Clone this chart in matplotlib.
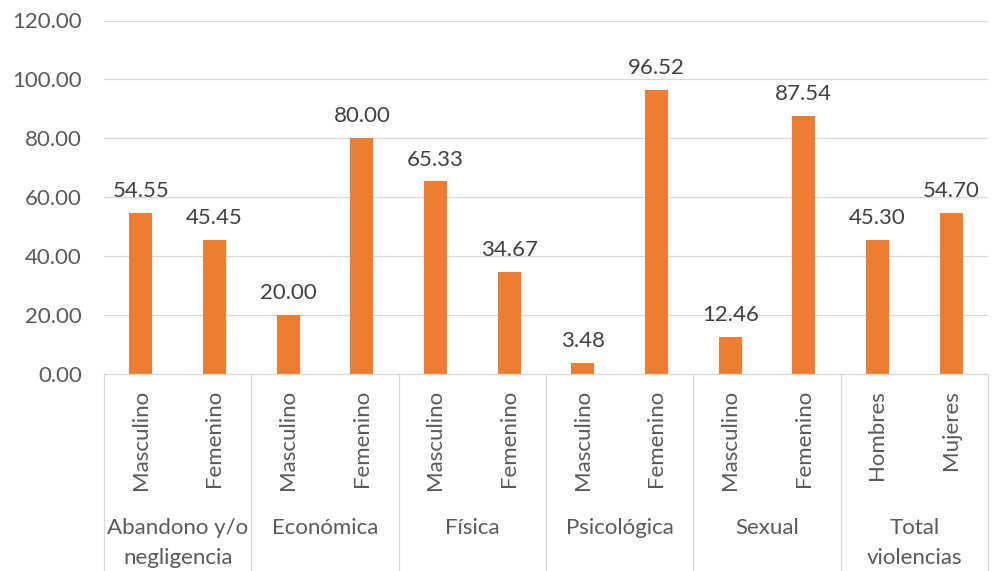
import matplotlib
matplotlib.use("Agg")
import matplotlib.pyplot as plt
from matplotlib.lines import Line2D
import matplotlib.transforms as mtransforms

groups = ["Abandono y/o\nnegligencia", "Económica", "Física", "Psicológica", "Sexual", "Total\nviolencias"]
subcats = ["Masculino", "Femenino", "Masculino", "Femenino", "Masculino", "Femenino",
           "Masculino", "Femenino", "Masculino", "Femenino", "Hombres", "Mujeres"]
values = [54.55, 45.45, 20.00, 80.00, 65.33, 34.67, 3.48, 96.52, 12.46, 87.54, 45.30, 54.70]
yticks = [0, 20, 40, 60, 80, 100, 120]

plt.rcParams['font.family'] = ['Lato', 'DejaVu Sans']
FS = 16
W, H = 995, 571
fig = plt.figure(figsize=(W/100, H/100), dpi=100)
left, right, top, base = 104, 988, 20.5, 373.5
ax = fig.add_axes([left/W, (H-base)/H, (right-left)/W, (base-top)/H])

x = list(range(len(values)))
bars = ax.bar(x, values, width=0.31, color="#ED7D31", zorder=3)
ax.set_xlim(-0.5, len(values)-0.5)
ax.set_ylim(0, 120)
ax.set_yticks(yticks)
ax.set_yticklabels([f"{v:.2f}" for v in yticks], fontsize=FS, color="#595959")
ax.tick_params(axis='y', length=0, pad=16)
ax.grid(axis='y', color="#D9D9D9", linewidth=0.9, zorder=0)
for s in ['top', 'right', 'left']:
    ax.spines[s].set_visible(False)
ax.spines['bottom'].set_color("#D9D9D9")
ax.spines['bottom'].set_linewidth(0.9)
ax.spines['bottom'].set_zorder(4)

ax.set_xticks(x)
ax.set_xticklabels(subcats, rotation=90, fontsize=FS, color="#595959")
ax.tick_params(axis='x', length=0, pad=12)

for b, v in zip(bars, values):
    ax.annotate(f"{v:.2f}", (b.get_x()+b.get_width()/2, v), xytext=(0, 8.5),
                textcoords="offset points", ha='center', va='bottom',
                fontsize=FS, color="#404040")

ax_h = base - top
trans = mtransforms.blended_transform_factory(ax.transData, ax.transAxes)
bottom_ax = -(H - base) / ax_h
for i in range(len(groups)+1):
    xs = i*2 - 0.5
    ax.add_line(Line2D([xs, xs], [0, bottom_ax-0.05], transform=trans, color="#D9D9D9",
                       linewidth=0.9, clip_on=False))
label_y = -(518 - base) / ax_h
for i, g in enumerate(groups):
    ax.text(i*2 + 0.5, label_y, g, transform=trans, ha='center', va='top',
            fontsize=FS, color="#595959", linespacing=1.6, clip_on=False)

fig.savefig("out.png", dpi=100)
